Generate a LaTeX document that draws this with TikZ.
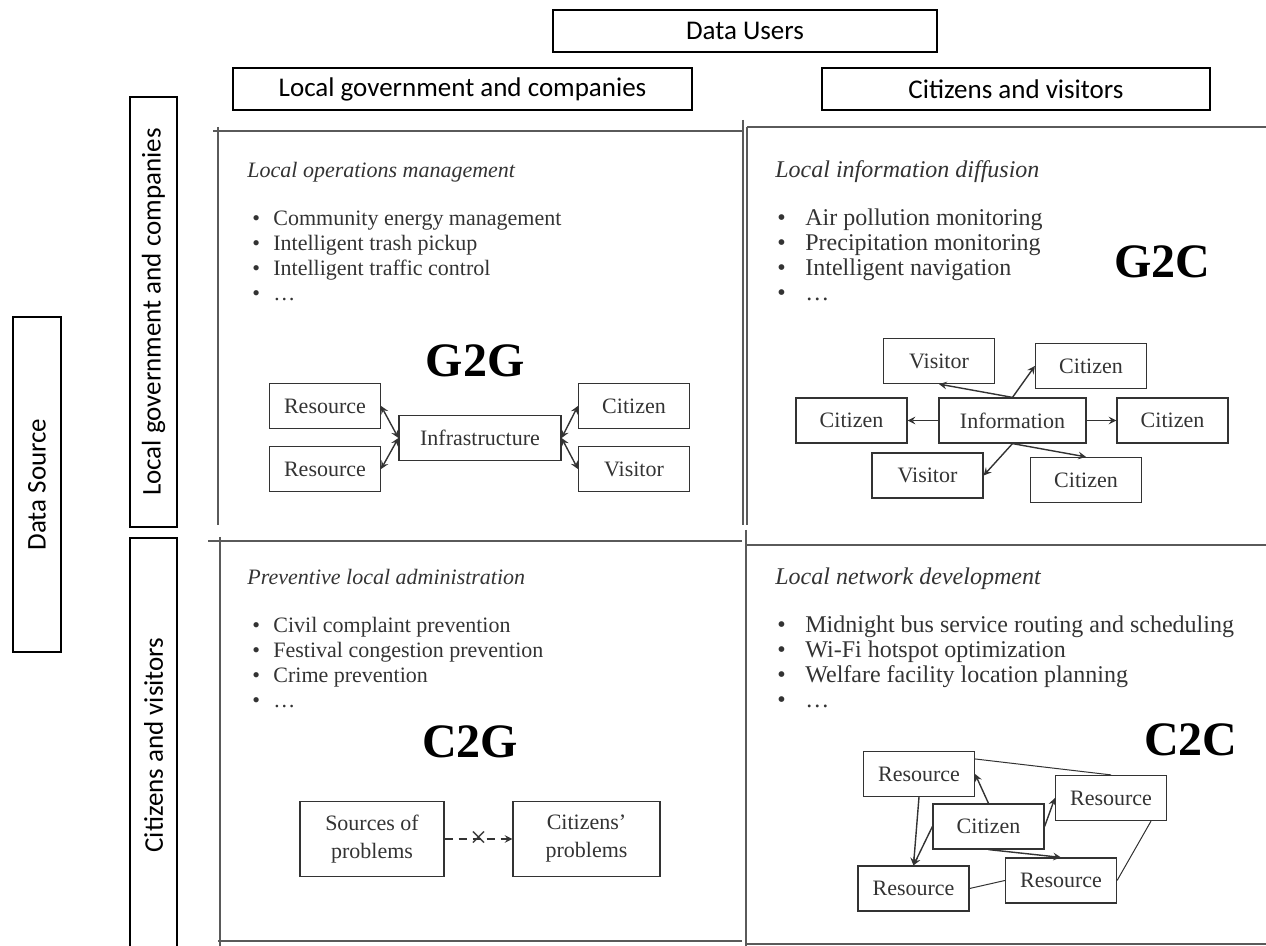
\documentclass[tikz,border=0pt]{standalone}
\usepackage{fontspec}
\setmainfont{Liberation Serif}
\newfontfamily\hdfont{Carlito}
\definecolor{ink}{HTML}{333333}
\definecolor{rule}{HTML}{5A5A5A}
\tikzset{
  hdbox/.style={draw=black,line width=.9pt,minimum height=21pt,inner sep=2pt,font=\hdfont\fontsize{13.5}{16}\selectfont},
  sbox/.style={draw=ink,line width=.6pt,text=ink,minimum width=55.5pt,minimum height=22.5pt,inner sep=1pt,font=\fontsize{11}{13}\selectfont},
  qtitle/.style={anchor=base west,inner sep=0,text=ink,font=\itshape\fontsize{11}{13}\selectfont},
  qitem/.style={anchor=base west,inner sep=0,text=ink,font=\fontsize{11}{13}\selectfont},
  wide/.style={font=\fontsize{12}{14}\selectfont},
  widetitle/.style={font=\itshape\fontsize{12}{14}\selectfont},
  tag/.style={inner sep=0,font=\bfseries\fontsize{24}{28}\selectfont},
  qline/.style={draw=rule,line width=.8pt},
  link/.style={draw=ink,line width=.7pt,-stealth},
  plain/.style={draw=ink,line width=.5pt}
}
\newcommand{\bul}[1][10.5pt]{\makebox[#1][l]{\textbullet}}

\begin{document}
\begin{tikzpicture}[x=0.5pt,y=-0.5pt]
  \useasboundingbox (0,0) rectangle (1266,946);
  % headers
  \node[hdbox,minimum width=192pt] (users) at (745,31) {Data Users};
  \node[hdbox,minimum width=229.5pt] (ugov) at (462.5,89) {Local government and companies};
  \node[hdbox,minimum width=194pt] (ucit) at (1016,89) {Citizens and visitors};
  \node[hdbox,rotate=90,minimum width=167.5pt,minimum height=24pt] (source) at (37,484.5) {Data Source};
  \node[hdbox,rotate=90,minimum width=215pt,minimum height=23.5pt] (sgov) at (153.5,312) {Local government and companies};
  \node[hdbox,rotate=90,minimum width=207pt,minimum height=23.5pt] (scit) at (153.5,745) {Citizens and visitors};
  % quadrant frames
  \draw[qline] (213,131) -- (743,131);
  \draw[qline] (218,127) -- (218,525);
  \draw[qline] (743,120) -- (743,525);
  \draw[qline] (747,127) -- (1266,127);
  \draw[qline] (747,127) -- (747,525);
  \draw[qline] (208,541) -- (742,541);
  \draw[qline] (220,537) -- (220,946);
  \draw[qline] (218,941) -- (742,941);
  \draw[qline] (746,530) -- (746,946);
  \draw[qline] (746,545) -- (1266,545);
  \draw[qline] (746,944) -- (1266,944);

  % G2G
  \node[qtitle] (ggt) at (247,178) {Local operations management};
  \foreach \t [count=\i] in {Community energy management,Intelligent trash pickup,Intelligent traffic control,\dots}
    \node[qitem] (ggi\i) at (252,201+25*\i) {\bul\t};
  \node[tag] (g2g) at (475,361) {G2G};
  \node[sbox] (gr1) at (325,406) {Resource};
  \node[sbox] (gr2) at (325,469) {Resource};
  \node[sbox,minimum width=81pt] (ginf) at (480,438) {Infrastructure};
  \node[sbox] (gc) at (634,406) {Citizen};
  \node[sbox] (gv) at (634,469) {Visitor};
  \foreach \n in {gr1,gr2} \draw[link,stealth-stealth] (\n.east) -- (ginf.west);
  \foreach \n in {gc,gv} \draw[link,stealth-stealth] (\n.west) -- (ginf.east);

  % G2C
  \node[qtitle,widetitle] (gct) at (775,178) {Local information diffusion};
  \foreach \t [count=\i] in {Air pollution monitoring,Precipitation monitoring,Intelligent navigation,\dots}
    \node[qitem,wide] (gci\i) at (777,201+25*\i) {\bul[14pt]\t};
  \node[tag] (g2c) at (1162,262) {G2C};
  \node[sbox] (cv1) at (939,361) {Visitor};
  \node[sbox] (cc1) at (1091,366) {Citizen};
  \node[sbox] (cc2) at (851.5,420.5) {Citizen};
  \node[sbox,minimum width=73.5pt] (info) at (1012.5,420.5) {Information};
  \node[sbox] (cc3) at (1172.5,420.5) {Citizen};
  \node[sbox] (cv2) at (927.5,475.5) {Visitor};
  \node[sbox] (cc4) at (1086,480) {Citizen};
  \draw[link] (info.north) -- (cv1.south);
  \draw[link] (info.north) -- (cc1.west);
  \draw[link] (info.west) -- (cc2.east);
  \draw[link] (info.east) -- (cc3.west);
  \draw[link] (info.south) -- (cv2.east);
  \draw[link] (info.south) -- (cc4.north);

  % C2G
  \node[qtitle] (cgt) at (247,585) {Preventive local administration};
  \foreach \t [count=\i] in {Civil complaint prevention,Festival congestion prevention,Crime prevention,\dots}
    \node[qitem] (cgi\i) at (252,608+25*\i) {\bul\t};
  \node[tag] (c2g) at (470,742) {C2G};
  \node[sbox,minimum width=72pt,minimum height=37.5pt,align=center,font=\fontsize{11}{14}\selectfont] (src) at (372,839) {Sources of\\problems};
  \node[sbox,minimum width=73.5pt,minimum height=37.5pt,align=center,font=\fontsize{11}{14}\selectfont] (cpr) at (586.5,839) {Citizens’\\problems};
  \draw[link,dash pattern=on 4pt off 3pt] (src) -- (cpr) node[midway,inner sep=0,text=ink,font=\fontsize{15}{15}\selectfont] (cut) {×};

  % C2C
  \node[qtitle,widetitle] (cct) at (775,585) {Local network development};
  \foreach \t [count=\i] in {Midnight bus service routing and scheduling,Wi-Fi hotspot optimization,Welfare facility location planning,\dots}
    \node[qitem,wide] (cci\i) at (777,608+25*\i) {\bul[14pt]\t};
  \node[tag] (c2c) at (1191,740) {C2C};
  \node[sbox] (rtl) at (919,774) {Resource};
  \node[sbox] (rtr) at (1111,798) {Resource};
  \node[sbox] (cz) at (988.5,826.5) {Citizen};
  \node[sbox] (rbl) at (913.5,888.5) {Resource};
  \node[sbox] (rbr) at (1061,880.5) {Resource};
  \draw[plain] (rtl.15) -- (rtr.north);
  \draw[plain] (rtr.-30) -- (rbr.east);
  \draw[plain] (rbr.west) -- (rbl.east);
  \draw[link] (rtl.south) -- (rbl.north);
  \draw[link] (cz.north) -- (rtl.east);
  \draw[link] (cz.east) -- (rtr.west);
  \draw[link] (cz.west) -- (rbl.north);
  \draw[link] (cz.south) -- (rbr.north);
\end{tikzpicture}
\end{document}
